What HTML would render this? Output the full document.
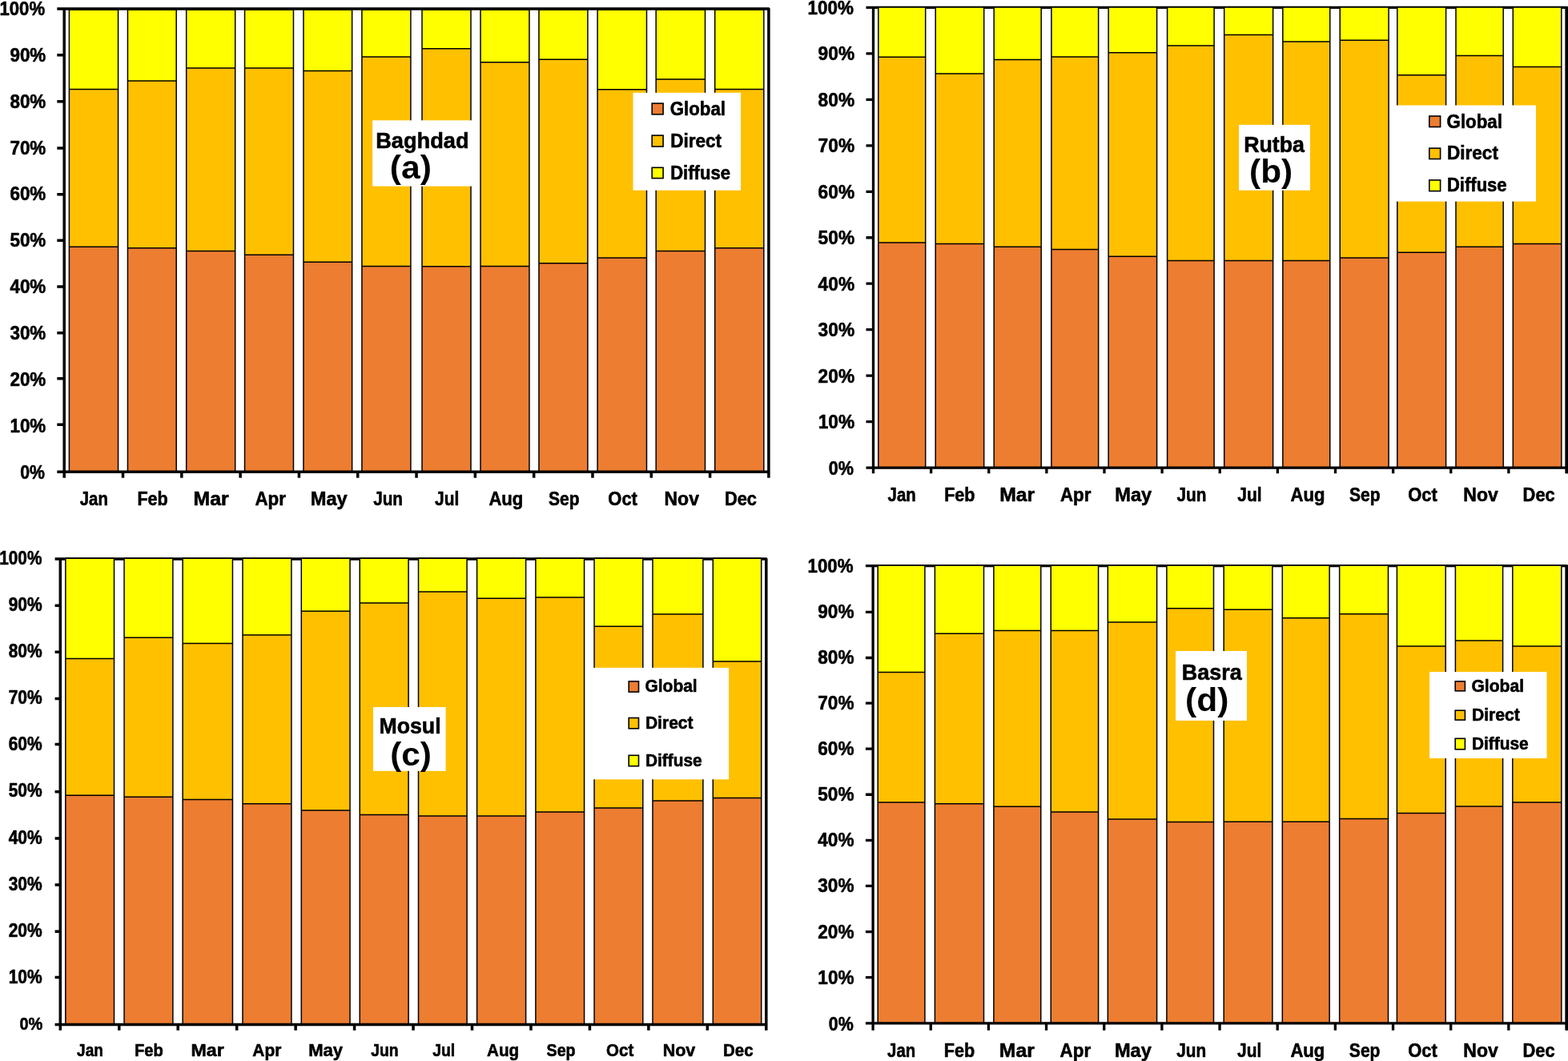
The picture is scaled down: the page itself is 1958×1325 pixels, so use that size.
<!DOCTYPE html>
<html lang="en">
<head>
<meta charset="utf-8">
<title>Monthly global, direct and diffuse solar radiation shares</title>
<style>
html,body{margin:0;padding:0;background:#fff;}
body{width:1958px;height:1325px;overflow:hidden;}
svg{display:block;}
.t{font-family:"Liberation Sans",sans-serif;font-weight:bold;fill:#000;stroke:#000;stroke-width:0.6px;stroke-linejoin:round;}
.n{stroke:none;}
.o{fill:none;stroke:#000;stroke-width:1.5;}
.s{stroke:#000;stroke-width:1.6;}
</style>
</head>
<body>
<svg width="1958" height="1325" viewBox="0 0 1958 1325">
<rect width="1958" height="1325" fill="#fff"/>
<g>
<path d="M71.30 11.00H959.90V596.80" fill="none" stroke="#000" stroke-width="3.5" stroke-linejoin="round"/>
<rect x="86.40" y="12.30" width="61.15" height="99.10" fill="#FFFF00"/><rect x="86.40" y="111.40" width="61.15" height="196.80" fill="#FFC000"/><rect x="86.40" y="308.20" width="61.15" height="281.10" fill="#ED7D31"/><path class="o" d="M86.40 12.30H147.55V589.30H86.40ZM86.40 111.40H147.55M86.40 308.20H147.55"/>
<rect x="159.45" y="12.30" width="60.75" height="88.70" fill="#FFFF00"/><rect x="159.45" y="101.00" width="60.75" height="208.80" fill="#FFC000"/><rect x="159.45" y="309.80" width="60.75" height="279.50" fill="#ED7D31"/><path class="o" d="M159.45 12.30H220.20V589.30H159.45ZM159.45 101.00H220.20M159.45 309.80H220.20"/>
<rect x="232.70" y="12.30" width="61.00" height="72.70" fill="#FFFF00"/><rect x="232.70" y="85.00" width="61.00" height="228.40" fill="#FFC000"/><rect x="232.70" y="313.40" width="61.00" height="275.90" fill="#ED7D31"/><path class="o" d="M232.70 12.30H293.70V589.30H232.70ZM232.70 85.00H293.70M232.70 313.40H293.70"/>
<rect x="305.55" y="12.30" width="60.91" height="72.77" fill="#FFFF00"/><rect x="305.55" y="85.07" width="60.91" height="233.23" fill="#FFC000"/><rect x="305.55" y="318.30" width="60.91" height="271.00" fill="#ED7D31"/><path class="o" d="M305.55 12.30H366.46V589.30H305.55ZM305.55 85.07H366.46M305.55 318.30H366.46"/>
<rect x="378.96" y="12.30" width="60.68" height="76.14" fill="#FFFF00"/><rect x="378.96" y="88.44" width="60.68" height="238.86" fill="#FFC000"/><rect x="378.96" y="327.30" width="60.68" height="262.00" fill="#ED7D31"/><path class="o" d="M378.96 12.30H439.64V589.30H378.96ZM378.96 88.44H439.64M378.96 327.30H439.64"/>
<rect x="451.90" y="12.30" width="61.00" height="58.67" fill="#FFFF00"/><rect x="451.90" y="70.97" width="61.00" height="261.53" fill="#FFC000"/><rect x="451.90" y="332.50" width="61.00" height="256.80" fill="#ED7D31"/><path class="o" d="M451.90 12.30H512.90V589.30H451.90ZM451.90 70.97H512.90M451.90 332.50H512.90"/>
<rect x="527.00" y="12.30" width="61.00" height="48.56" fill="#FFFF00"/><rect x="527.00" y="60.86" width="61.00" height="271.84" fill="#FFC000"/><rect x="527.00" y="332.70" width="61.00" height="256.60" fill="#ED7D31"/><path class="o" d="M527.00 12.30H588.00V589.30H527.00ZM527.00 60.86H588.00M527.00 332.70H588.00"/>
<rect x="600.00" y="12.30" width="60.95" height="65.54" fill="#FFFF00"/><rect x="600.00" y="77.84" width="60.95" height="254.66" fill="#FFC000"/><rect x="600.00" y="332.50" width="60.95" height="256.80" fill="#ED7D31"/><path class="o" d="M600.00 12.30H660.95V589.30H600.00ZM600.00 77.84H660.95M600.00 332.50H660.95"/>
<rect x="672.95" y="12.30" width="60.95" height="62.04" fill="#FFFF00"/><rect x="672.95" y="74.34" width="60.95" height="254.36" fill="#FFC000"/><rect x="672.95" y="328.70" width="60.95" height="260.60" fill="#ED7D31"/><path class="o" d="M672.95 12.30H733.90V589.30H672.95ZM672.95 74.34H733.90M672.95 328.70H733.90"/>
<rect x="746.10" y="12.30" width="61.40" height="99.37" fill="#FFFF00"/><rect x="746.10" y="111.67" width="61.40" height="210.23" fill="#FFC000"/><rect x="746.10" y="321.90" width="61.40" height="267.40" fill="#ED7D31"/><path class="o" d="M746.10 12.30H807.50V589.30H746.10ZM746.10 111.67H807.50M746.10 321.90H807.50"/>
<rect x="819.20" y="12.30" width="61.30" height="86.70" fill="#FFFF00"/><rect x="819.20" y="99.00" width="61.30" height="214.40" fill="#FFC000"/><rect x="819.20" y="313.40" width="61.30" height="275.90" fill="#ED7D31"/><path class="o" d="M819.20 12.30H880.50V589.30H819.20ZM819.20 99.00H880.50M819.20 313.40H880.50"/>
<rect x="892.70" y="12.30" width="61.10" height="99.20" fill="#FFFF00"/><rect x="892.70" y="111.50" width="61.10" height="198.30" fill="#FFC000"/><rect x="892.70" y="309.80" width="61.10" height="279.50" fill="#ED7D31"/><path class="o" d="M892.70 12.30H953.80V589.30H892.70ZM892.70 111.50H953.80M892.70 309.80H953.80"/>
<path d="M80.20 11.00V596.80M71.30 589.30H959.90M71.30 68.83H80.20M71.30 126.66H80.20M71.30 185.09H80.20M71.30 242.82H80.20M71.30 300.15H80.20M71.30 357.98H80.20M71.30 415.81H80.20M71.30 472.64H80.20M71.30 530.27H80.20M153.51 589.30V596.80M226.82 589.30V596.80M300.12 589.30V596.80M373.43 589.30V596.80M446.74 589.30V596.80M520.05 589.30V596.80M593.36 589.30V596.80M666.67 589.30V596.80M739.97 589.30V596.80M813.28 589.30V596.80M886.59 589.30V596.80" fill="none" stroke="#000" stroke-width="3.5"/>
<text class="t" font-size="24.50" transform="translate(-0.54 19.10) scale(0.9041 1)">100%</text>
<text class="t" font-size="24.50" transform="translate(12.42 76.93) scale(0.9152 1)">90%</text>
<text class="t" font-size="24.50" transform="translate(12.42 134.76) scale(0.9152 1)">80%</text>
<text class="t" font-size="24.50" transform="translate(12.42 192.59) scale(0.9152 1)">70%</text>
<text class="t" font-size="24.50" transform="translate(12.42 250.42) scale(0.9152 1)">60%</text>
<text class="t" font-size="24.50" transform="translate(12.42 308.25) scale(0.9152 1)">50%</text>
<text class="t" font-size="24.50" transform="translate(12.42 366.08) scale(0.9152 1)">40%</text>
<text class="t" font-size="24.50" transform="translate(12.42 423.91) scale(0.9152 1)">30%</text>
<text class="t" font-size="24.50" transform="translate(12.42 481.74) scale(0.9152 1)">20%</text>
<text class="t" font-size="24.50" transform="translate(12.44 539.57) scale(0.9146 1)">10%</text>
<text class="t" font-size="24.50" transform="translate(25.25 598.10) scale(0.8696 1)">0%</text>
<text class="t" font-size="23.60" transform="translate(99.80 631.20) scale(0.8629 1)">Jan</text>
<text class="t" font-size="23.60" transform="translate(171.46 631.20) scale(0.9134 1)">Feb</text>
<text class="t" font-size="23.60" transform="translate(241.61 631.20) scale(1.0494 1)">Mar</text>
<text class="t" font-size="23.60" transform="translate(318.42 631.20) scale(0.9483 1)">Apr</text>
<text class="t" font-size="23.60" transform="translate(387.80 631.20) scale(1.0011 1)">May</text>
<text class="t" font-size="23.60" transform="translate(466.13 631.20) scale(0.8799 1)">Jun</text>
<text class="t" font-size="23.60" transform="translate(543.09 631.20) scale(0.8848 1)">Jul</text>
<text class="t" font-size="23.60" transform="translate(610.41 631.20) scale(0.9368 1)">Aug</text>
<text class="t" font-size="23.60" transform="translate(684.94 631.20) scale(0.8907 1)">Sep</text>
<text class="t" font-size="23.60" transform="translate(759.35 631.20) scale(0.9288 1)">Oct</text>
<text class="t" font-size="23.60" transform="translate(829.49 631.20) scale(0.9755 1)">Nov</text>
<text class="t" font-size="23.60" transform="translate(904.93 631.20) scale(0.9254 1)">Dec</text>
<rect x="465.1" y="150.3" width="124.20" height="82.30" fill="#fff"/>
<text class="t" font-size="28.50" transform="translate(469.13 184.60) scale(0.9549 1)">Baghdad</text>
<text class="t n" font-size="40.50" transform="translate(486.87 222.60) scale(1.0538 1)">(a)</text>
<rect x="790.5" y="115.8" width="134.60" height="121.90" fill="#fff"/>
<rect class="s" x="814.20" y="129.10" width="13.90" height="13.70" fill="#ED7D31"/>
<text class="t" font-size="23.50" transform="translate(836.81 143.60) scale(0.9461 1)">Global</text>
<rect class="s" x="814.20" y="169.10" width="13.90" height="13.90" fill="#FFC000"/>
<text class="t" font-size="23.50" transform="translate(837.13 183.60) scale(0.9592 1)">Direct</text>
<rect class="s" x="814.20" y="209.30" width="13.90" height="13.30" fill="#FFFF00"/>
<text class="t" font-size="23.50" transform="translate(837.17 223.50) scale(0.9390 1)">Diffuse</text>
</g>
<g>
<path d="M1081.50 9.40H1956.00V591.30" fill="none" stroke="#000" stroke-width="3.3" stroke-linejoin="round"/>
<rect x="1956.00" y="8.15" width="2.00" height="583.15" fill="#000"/>
<rect x="1096.80" y="9.00" width="58.90" height="62.20" fill="#FFFF00"/><rect x="1096.80" y="71.20" width="58.90" height="231.80" fill="#FFC000"/><rect x="1096.80" y="303.00" width="58.90" height="281.10" fill="#ED7D31"/><path class="o" d="M1096.80 9.00H1155.70V584.10H1096.80ZM1096.80 71.20H1155.70M1096.80 303.00H1155.70"/>
<rect x="1168.20" y="9.00" width="60.50" height="82.90" fill="#FFFF00"/><rect x="1168.20" y="91.90" width="60.50" height="212.70" fill="#FFC000"/><rect x="1168.20" y="304.60" width="60.50" height="279.50" fill="#ED7D31"/><path class="o" d="M1168.20 9.00H1228.70V584.10H1168.20ZM1168.20 91.90H1228.70M1168.20 304.60H1228.70"/>
<rect x="1241.20" y="9.00" width="59.00" height="65.40" fill="#FFFF00"/><rect x="1241.20" y="74.40" width="59.00" height="233.80" fill="#FFC000"/><rect x="1241.20" y="308.20" width="59.00" height="275.90" fill="#ED7D31"/><path class="o" d="M1241.20 9.00H1300.20V584.10H1241.20ZM1241.20 74.40H1300.20M1241.20 308.20H1300.20"/>
<rect x="1312.90" y="9.00" width="58.75" height="61.90" fill="#FFFF00"/><rect x="1312.90" y="70.90" width="58.75" height="240.70" fill="#FFC000"/><rect x="1312.90" y="311.60" width="58.75" height="272.50" fill="#ED7D31"/><path class="o" d="M1312.90 9.00H1371.65V584.10H1312.90ZM1312.90 70.90H1371.65M1312.90 311.60H1371.65"/>
<rect x="1384.15" y="9.00" width="60.45" height="56.80" fill="#FFFF00"/><rect x="1384.15" y="65.80" width="60.45" height="254.50" fill="#FFC000"/><rect x="1384.15" y="320.30" width="60.45" height="263.80" fill="#ED7D31"/><path class="o" d="M1384.15 9.00H1444.60V584.10H1384.15ZM1384.15 65.80H1444.60M1384.15 320.30H1444.60"/>
<rect x="1457.60" y="9.00" width="58.50" height="48.10" fill="#FFFF00"/><rect x="1457.60" y="57.10" width="58.50" height="268.40" fill="#FFC000"/><rect x="1457.60" y="325.50" width="58.50" height="258.60" fill="#ED7D31"/><path class="o" d="M1457.60 9.00H1516.10V584.10H1457.60ZM1457.60 57.10H1516.10M1457.60 325.50H1516.10"/>
<rect x="1528.70" y="9.00" width="60.95" height="34.50" fill="#FFFF00"/><rect x="1528.70" y="43.50" width="60.95" height="282.00" fill="#FFC000"/><rect x="1528.70" y="325.50" width="60.95" height="258.60" fill="#ED7D31"/><path class="o" d="M1528.70 9.00H1589.65V584.10H1528.70ZM1528.70 43.50H1589.65M1528.70 325.50H1589.65"/>
<rect x="1601.85" y="9.00" width="58.90" height="43.10" fill="#FFFF00"/><rect x="1601.85" y="52.10" width="58.90" height="273.40" fill="#FFC000"/><rect x="1601.85" y="325.50" width="58.90" height="258.60" fill="#ED7D31"/><path class="o" d="M1601.85 9.00H1660.75V584.10H1601.85ZM1601.85 52.10H1660.75M1601.85 325.50H1660.75"/>
<rect x="1673.25" y="9.00" width="60.85" height="41.25" fill="#FFFF00"/><rect x="1673.25" y="50.25" width="60.85" height="271.65" fill="#FFC000"/><rect x="1673.25" y="321.90" width="60.85" height="262.20" fill="#ED7D31"/><path class="o" d="M1673.25 9.00H1734.10V584.10H1673.25ZM1673.25 50.25H1734.10M1673.25 321.90H1734.10"/>
<rect x="1744.80" y="9.00" width="60.80" height="84.80" fill="#FFFF00"/><rect x="1744.80" y="93.80" width="60.80" height="221.40" fill="#FFC000"/><rect x="1744.80" y="315.20" width="60.80" height="268.90" fill="#ED7D31"/><path class="o" d="M1744.80 9.00H1805.60V584.10H1744.80ZM1744.80 93.80H1805.60M1744.80 315.20H1805.60"/>
<rect x="1818.00" y="9.00" width="59.20" height="60.60" fill="#FFFF00"/><rect x="1818.00" y="69.60" width="59.20" height="238.60" fill="#FFC000"/><rect x="1818.00" y="308.20" width="59.20" height="275.90" fill="#ED7D31"/><path class="o" d="M1818.00 9.00H1877.20V584.10H1818.00ZM1818.00 69.60H1877.20M1818.00 308.20H1877.20"/>
<rect x="1889.30" y="9.00" width="60.50" height="74.40" fill="#FFFF00"/><rect x="1889.30" y="83.40" width="60.50" height="221.20" fill="#FFC000"/><rect x="1889.30" y="304.60" width="60.50" height="279.50" fill="#ED7D31"/><path class="o" d="M1889.30 9.00H1949.80V584.10H1889.30ZM1889.30 83.40H1949.80M1889.30 304.60H1949.80"/>
<path d="M1090.50 9.40V591.30M1081.50 584.10H1956.00M1081.50 66.87H1090.50M1081.50 124.34H1090.50M1081.50 181.81H1090.50M1081.50 239.28H1090.50M1081.50 296.75H1090.50M1081.50 354.22H1090.50M1081.50 411.69H1090.50M1081.50 469.16H1090.50M1081.50 526.63H1090.50M1162.62 584.10V591.30M1234.75 584.10V591.30M1306.88 584.10V591.30M1379.00 584.10V591.30M1451.12 584.10V591.30M1523.25 584.10V591.30M1595.38 584.10V591.30M1667.50 584.10V591.30M1739.62 584.10V591.30M1811.75 584.10V591.30M1883.88 584.10V591.30" fill="none" stroke="#000" stroke-width="3.3"/>
<text class="t" font-size="24.50" transform="translate(1008.49 17.50) scale(0.9165 1)">100%</text>
<text class="t" font-size="24.50" transform="translate(1021.60 75.03) scale(0.9278 1)">90%</text>
<text class="t" font-size="24.50" transform="translate(1021.60 132.56) scale(0.9278 1)">80%</text>
<text class="t" font-size="24.50" transform="translate(1021.60 190.09) scale(0.9278 1)">70%</text>
<text class="t" font-size="24.50" transform="translate(1021.60 247.62) scale(0.9278 1)">60%</text>
<text class="t" font-size="24.50" transform="translate(1021.60 305.15) scale(0.9278 1)">50%</text>
<text class="t" font-size="24.50" transform="translate(1021.60 362.68) scale(0.9278 1)">40%</text>
<text class="t" font-size="24.50" transform="translate(1021.60 420.21) scale(0.9278 1)">30%</text>
<text class="t" font-size="24.50" transform="translate(1021.60 477.74) scale(0.9278 1)">20%</text>
<text class="t" font-size="24.50" transform="translate(1021.63 535.27) scale(0.9272 1)">10%</text>
<text class="t" font-size="24.50" transform="translate(1034.63 593.40) scale(0.8816 1)">0%</text>
<text class="t" font-size="23.60" transform="translate(1108.61 626.30) scale(0.8629 1)">Jan</text>
<text class="t" font-size="23.60" transform="translate(1179.18 626.30) scale(0.9134 1)">Feb</text>
<text class="t" font-size="23.60" transform="translate(1248.23 626.30) scale(1.0494 1)">Mar</text>
<text class="t" font-size="23.60" transform="translate(1323.95 626.30) scale(0.9483 1)">Apr</text>
<text class="t" font-size="23.60" transform="translate(1392.24 626.30) scale(1.0011 1)">May</text>
<text class="t" font-size="23.60" transform="translate(1469.48 626.30) scale(0.8799 1)">Jun</text>
<text class="t" font-size="23.60" transform="translate(1545.34 626.30) scale(0.8848 1)">Jul</text>
<text class="t" font-size="23.60" transform="translate(1611.56 626.30) scale(0.9368 1)">Aug</text>
<text class="t" font-size="23.60" transform="translate(1685.00 626.30) scale(0.8907 1)">Sep</text>
<text class="t" font-size="23.60" transform="translate(1758.32 626.30) scale(0.9288 1)">Oct</text>
<text class="t" font-size="23.60" transform="translate(1827.37 626.30) scale(0.9755 1)">Nov</text>
<text class="t" font-size="23.60" transform="translate(1901.62 626.30) scale(0.9254 1)">Dec</text>
<rect x="1547.0" y="155.9" width="89.00" height="81.80" fill="#fff"/>
<text class="t" font-size="28.50" transform="translate(1553.16 189.70) scale(0.9395 1)">Rutba</text>
<text class="t n" font-size="40.50" transform="translate(1560.08 228.30) scale(1.0465 1)">(b)</text>
<rect x="1743.6" y="131.5" width="174.40" height="120.10" fill="#fff"/>
<rect class="s" x="1784.80" y="145.00" width="13.80" height="13.50" fill="#ED7D31"/>
<text class="t" font-size="23.50" transform="translate(1806.61 159.50) scale(0.9475 1)">Global</text>
<rect class="s" x="1784.80" y="185.10" width="13.80" height="13.40" fill="#FFC000"/>
<text class="t" font-size="23.50" transform="translate(1806.93 199.30) scale(0.9607 1)">Direct</text>
<rect class="s" x="1784.80" y="224.90" width="13.80" height="13.70" fill="#FFFF00"/>
<text class="t" font-size="23.50" transform="translate(1806.97 239.40) scale(0.9377 1)">Diffuse</text>
</g>
<g>
<path d="M68.60 698.00H956.80V1286.70" fill="none" stroke="#000" stroke-width="3.5" stroke-linejoin="round"/>
<rect x="81.83" y="697.20" width="60.67" height="125.20" fill="#FFFF00"/><rect x="81.83" y="822.40" width="60.67" height="170.90" fill="#FFC000"/><rect x="81.83" y="993.30" width="60.67" height="286.20" fill="#ED7D31"/><path class="o" d="M81.83 697.20H142.50V1279.50H81.83ZM81.83 822.40H142.50M81.83 993.30H142.50"/>
<rect x="155.07" y="697.20" width="60.80" height="98.95" fill="#FFFF00"/><rect x="155.07" y="796.15" width="60.80" height="199.05" fill="#FFC000"/><rect x="155.07" y="995.20" width="60.80" height="284.30" fill="#ED7D31"/><path class="o" d="M155.07 697.20H215.87V1279.50H155.07ZM155.07 796.15H215.87M155.07 995.20H215.87"/>
<rect x="228.13" y="697.20" width="62.33" height="106.20" fill="#FFFF00"/><rect x="228.13" y="803.40" width="62.33" height="195.20" fill="#FFC000"/><rect x="228.13" y="998.60" width="62.33" height="280.90" fill="#ED7D31"/><path class="o" d="M228.13 697.20H290.46V1279.50H228.13ZM228.13 803.40H290.46M228.13 998.60H290.46"/>
<rect x="303.00" y="697.20" width="60.90" height="95.70" fill="#FFFF00"/><rect x="303.00" y="792.90" width="60.90" height="210.80" fill="#FFC000"/><rect x="303.00" y="1003.70" width="60.90" height="275.80" fill="#ED7D31"/><path class="o" d="M303.00 697.20H363.90V1279.50H303.00ZM303.00 792.90H363.90M303.00 1003.70H363.90"/>
<rect x="376.30" y="697.20" width="60.75" height="66.00" fill="#FFFF00"/><rect x="376.30" y="763.20" width="60.75" height="248.90" fill="#FFC000"/><rect x="376.30" y="1012.10" width="60.75" height="267.40" fill="#ED7D31"/><path class="o" d="M376.30 697.20H437.05V1279.50H376.30ZM376.30 763.20H437.05M376.30 1012.10H437.05"/>
<rect x="449.25" y="697.20" width="60.85" height="55.70" fill="#FFFF00"/><rect x="449.25" y="752.90" width="60.85" height="264.60" fill="#FFC000"/><rect x="449.25" y="1017.50" width="60.85" height="262.00" fill="#ED7D31"/><path class="o" d="M449.25 697.20H510.10V1279.50H449.25ZM449.25 752.90H510.10M449.25 1017.50H510.10"/>
<rect x="522.50" y="697.20" width="60.59" height="41.83" fill="#FFFF00"/><rect x="522.50" y="739.03" width="60.59" height="280.07" fill="#FFC000"/><rect x="522.50" y="1019.10" width="60.59" height="260.40" fill="#ED7D31"/><path class="o" d="M522.50 697.20H583.09V1279.50H522.50ZM522.50 739.03H583.09M522.50 1019.10H583.09"/>
<rect x="595.59" y="697.20" width="61.04" height="50.04" fill="#FFFF00"/><rect x="595.59" y="747.24" width="61.04" height="271.86" fill="#FFC000"/><rect x="595.59" y="1019.10" width="61.04" height="260.40" fill="#ED7D31"/><path class="o" d="M595.59 697.20H656.63V1279.50H595.59ZM595.59 747.24H656.63M595.59 1019.10H656.63"/>
<rect x="668.89" y="697.20" width="60.68" height="48.82" fill="#FFFF00"/><rect x="668.89" y="746.02" width="60.68" height="267.88" fill="#FFC000"/><rect x="668.89" y="1013.90" width="60.68" height="265.60" fill="#ED7D31"/><path class="o" d="M668.89 697.20H729.57V1279.50H668.89ZM668.89 746.02H729.57M668.89 1013.90H729.57"/>
<rect x="742.07" y="697.20" width="60.73" height="84.98" fill="#FFFF00"/><rect x="742.07" y="782.18" width="60.73" height="226.82" fill="#FFC000"/><rect x="742.07" y="1009.00" width="60.73" height="270.50" fill="#ED7D31"/><path class="o" d="M742.07 697.20H802.80V1279.50H742.07ZM742.07 782.18H802.80M742.07 1009.00H802.80"/>
<rect x="815.00" y="697.20" width="62.90" height="69.70" fill="#FFFF00"/><rect x="815.00" y="766.90" width="62.90" height="233.10" fill="#FFC000"/><rect x="815.00" y="1000.00" width="62.90" height="279.50" fill="#ED7D31"/><path class="o" d="M815.00 697.20H877.90V1279.50H815.00ZM815.00 766.90H877.90M815.00 1000.00H877.90"/>
<rect x="890.30" y="697.20" width="60.40" height="128.80" fill="#FFFF00"/><rect x="890.30" y="826.00" width="60.40" height="170.60" fill="#FFC000"/><rect x="890.30" y="996.60" width="60.40" height="282.90" fill="#ED7D31"/><path class="o" d="M890.30 697.20H950.70V1279.50H890.30ZM890.30 826.00H950.70M890.30 996.60H950.70"/>
<path d="M75.30 698.00V1286.70M68.60 1279.50H956.80M68.60 756.15H75.30M68.60 814.30H75.30M68.60 872.45H75.30M68.60 929.40H75.30M68.60 988.75H75.30M68.60 1046.90H75.30M68.60 1105.05H75.30M68.60 1163.20H75.30M68.60 1220.45H75.30M148.76 1279.50V1286.70M222.22 1279.50V1286.70M295.68 1279.50V1286.70M369.13 1279.50V1286.70M442.59 1279.50V1286.70M516.05 1279.50V1286.70M589.51 1279.50V1286.70M662.97 1279.50V1286.70M736.42 1279.50V1286.70M809.88 1279.50V1286.70M883.34 1279.50V1286.70" fill="none" stroke="#000" stroke-width="3.5"/>
<text class="t" font-size="23.00" transform="translate(-0.77 704.60) scale(0.9034 1)">100%</text>
<text class="t" font-size="23.00" transform="translate(10.66 762.75) scale(0.9144 1)">90%</text>
<text class="t" font-size="23.00" transform="translate(10.66 820.90) scale(0.9144 1)">80%</text>
<text class="t" font-size="23.00" transform="translate(10.66 879.05) scale(0.9144 1)">70%</text>
<text class="t" font-size="23.00" transform="translate(10.66 937.20) scale(0.9144 1)">60%</text>
<text class="t" font-size="23.00" transform="translate(10.66 995.35) scale(0.9144 1)">50%</text>
<text class="t" font-size="23.00" transform="translate(10.66 1053.50) scale(0.9144 1)">40%</text>
<text class="t" font-size="23.00" transform="translate(10.66 1111.65) scale(0.9144 1)">30%</text>
<text class="t" font-size="23.00" transform="translate(10.66 1169.80) scale(0.9144 1)">20%</text>
<text class="t" font-size="23.00" transform="translate(10.69 1227.95) scale(0.9138 1)">10%</text>
<text class="t" font-size="23.00" transform="translate(24.44 1286.10) scale(0.8684 1)">0%</text>
<text class="t" font-size="22.20" transform="translate(96.10 1318.80) scale(0.8566 1)">Jan</text>
<text class="t" font-size="22.20" transform="translate(168.07 1318.80) scale(0.9069 1)">Feb</text>
<text class="t" font-size="22.20" transform="translate(238.58 1318.80) scale(1.0420 1)">Mar</text>
<text class="t" font-size="22.20" transform="translate(315.32 1318.80) scale(0.9416 1)">Apr</text>
<text class="t" font-size="22.20" transform="translate(385.14 1318.80) scale(0.9942 1)">May</text>
<text class="t" font-size="22.20" transform="translate(463.25 1318.80) scale(0.8735 1)">Jun</text>
<text class="t" font-size="22.20" transform="translate(540.13 1318.80) scale(0.8782 1)">Jul</text>
<text class="t" font-size="22.20" transform="translate(608.02 1318.80) scale(0.9302 1)">Aug</text>
<text class="t" font-size="22.20" transform="translate(682.58 1318.80) scale(0.8843 1)">Sep</text>
<text class="t" font-size="22.20" transform="translate(757.11 1318.80) scale(0.9221 1)">Oct</text>
<text class="t" font-size="22.20" transform="translate(827.65 1318.80) scale(0.9687 1)">Nov</text>
<text class="t" font-size="22.20" transform="translate(903.10 1318.80) scale(0.9188 1)">Dec</text>
<rect x="466.0" y="883.0" width="90.60" height="79.80" fill="#fff"/>
<text class="t" font-size="28.50" transform="translate(473.46 915.60) scale(0.9374 1)">Mosul</text>
<text class="t n" font-size="40.50" transform="translate(487.18 956.10) scale(1.0450 1)">(c)</text>
<rect x="741.0" y="833.9" width="169.10" height="139.40" fill="#fff"/>
<rect class="s" x="785.20" y="850.90" width="12.30" height="13.20" fill="#ED7D31"/>
<text class="t" font-size="22.40" transform="translate(805.46 864.30) scale(0.9360 1)">Global</text>
<rect class="s" x="785.20" y="896.50" width="12.30" height="13.30" fill="#FFC000"/>
<text class="t" font-size="22.40" transform="translate(805.93 910.20) scale(0.9398 1)">Direct</text>
<rect class="s" x="785.20" y="943.30" width="12.30" height="13.40" fill="#FFFF00"/>
<text class="t" font-size="22.40" transform="translate(805.94 956.60) scale(0.9322 1)">Diffuse</text>
</g>
<g>
<path d="M1080.90 706.70H1956.00V1286.70" fill="none" stroke="#000" stroke-width="3.3" stroke-linejoin="round"/>
<rect x="1956.00" y="705.45" width="2.00" height="581.25" fill="#000"/>
<rect x="1096.20" y="706.10" width="58.70" height="133.40" fill="#FFFF00"/><rect x="1096.20" y="839.50" width="58.70" height="162.60" fill="#FFC000"/><rect x="1096.20" y="1002.10" width="58.70" height="275.70" fill="#ED7D31"/><path class="o" d="M1096.20 706.10H1154.90V1277.80H1096.20ZM1096.20 839.50H1154.90M1096.20 1002.10H1154.90"/>
<rect x="1167.40" y="706.10" width="61.10" height="85.10" fill="#FFFF00"/><rect x="1167.40" y="791.20" width="61.10" height="212.50" fill="#FFC000"/><rect x="1167.40" y="1003.70" width="61.10" height="274.10" fill="#ED7D31"/><path class="o" d="M1167.40 706.10H1228.50V1277.80H1167.40ZM1167.40 791.20H1228.50M1167.40 1003.70H1228.50"/>
<rect x="1240.90" y="706.10" width="58.85" height="81.50" fill="#FFFF00"/><rect x="1240.90" y="787.60" width="58.85" height="219.60" fill="#FFC000"/><rect x="1240.90" y="1007.20" width="58.85" height="270.60" fill="#ED7D31"/><path class="o" d="M1240.90 706.10H1299.75V1277.80H1240.90ZM1240.90 787.60H1299.75M1240.90 1007.20H1299.75"/>
<rect x="1312.25" y="706.10" width="59.35" height="81.50" fill="#FFFF00"/><rect x="1312.25" y="787.60" width="59.35" height="226.30" fill="#FFC000"/><rect x="1312.25" y="1013.90" width="59.35" height="263.90" fill="#ED7D31"/><path class="o" d="M1312.25 706.10H1371.60V1277.80H1312.25ZM1312.25 787.60H1371.60M1312.25 1013.90H1371.60"/>
<rect x="1383.35" y="706.10" width="61.25" height="71.00" fill="#FFFF00"/><rect x="1383.35" y="777.10" width="61.25" height="246.00" fill="#FFC000"/><rect x="1383.35" y="1023.10" width="61.25" height="254.70" fill="#ED7D31"/><path class="o" d="M1383.35 706.10H1444.60V1277.80H1383.35ZM1383.35 777.10H1444.60M1383.35 1023.10H1444.60"/>
<rect x="1456.90" y="706.10" width="58.60" height="53.60" fill="#FFFF00"/><rect x="1456.90" y="759.70" width="58.60" height="266.70" fill="#FFC000"/><rect x="1456.90" y="1026.40" width="58.60" height="251.40" fill="#ED7D31"/><path class="o" d="M1456.90 706.10H1515.50V1277.80H1456.90ZM1456.90 759.70H1515.50M1456.90 1026.40H1515.50"/>
<rect x="1528.20" y="706.10" width="60.67" height="55.20" fill="#FFFF00"/><rect x="1528.20" y="761.30" width="60.67" height="264.90" fill="#FFC000"/><rect x="1528.20" y="1026.20" width="60.67" height="251.60" fill="#ED7D31"/><path class="o" d="M1528.20 706.10H1588.87V1277.80H1528.20ZM1528.20 761.30H1588.87M1528.20 1026.20H1588.87"/>
<rect x="1601.31" y="706.10" width="58.84" height="65.60" fill="#FFFF00"/><rect x="1601.31" y="771.70" width="58.84" height="254.50" fill="#FFC000"/><rect x="1601.31" y="1026.20" width="58.84" height="251.60" fill="#ED7D31"/><path class="o" d="M1601.31 706.10H1660.15V1277.80H1601.31ZM1601.31 771.70H1660.15M1601.31 1026.20H1660.15"/>
<rect x="1672.65" y="706.10" width="60.85" height="60.70" fill="#FFFF00"/><rect x="1672.65" y="766.80" width="60.85" height="255.60" fill="#FFC000"/><rect x="1672.65" y="1022.40" width="60.85" height="255.40" fill="#ED7D31"/><path class="o" d="M1672.65 706.10H1733.50V1277.80H1672.65ZM1672.65 766.80H1733.50M1672.65 1022.40H1733.50"/>
<rect x="1744.40" y="706.10" width="60.80" height="100.90" fill="#FFFF00"/><rect x="1744.40" y="807.00" width="60.80" height="208.60" fill="#FFC000"/><rect x="1744.40" y="1015.60" width="60.80" height="262.20" fill="#ED7D31"/><path class="o" d="M1744.40 706.10H1805.20V1277.80H1744.40ZM1744.40 807.00H1805.20M1744.40 1015.60H1805.20"/>
<rect x="1817.40" y="706.10" width="59.20" height="93.90" fill="#FFFF00"/><rect x="1817.40" y="800.00" width="59.20" height="207.10" fill="#FFC000"/><rect x="1817.40" y="1007.10" width="59.20" height="270.70" fill="#ED7D31"/><path class="o" d="M1817.40 706.10H1876.60V1277.80H1817.40ZM1817.40 800.00H1876.60M1817.40 1007.10H1876.60"/>
<rect x="1888.80" y="706.10" width="61.00" height="100.90" fill="#FFFF00"/><rect x="1888.80" y="807.00" width="61.00" height="195.10" fill="#FFC000"/><rect x="1888.80" y="1002.10" width="61.00" height="275.70" fill="#ED7D31"/><path class="o" d="M1888.80 706.10H1949.80V1277.80H1888.80ZM1888.80 807.00H1949.80M1888.80 1002.10H1949.80"/>
<path d="M1090.10 706.70V1286.70M1080.90 1277.80H1956.00M1080.90 764.41H1090.10M1080.90 821.52H1090.10M1080.90 878.03H1090.10M1080.90 935.14H1090.10M1080.90 992.25H1090.10M1080.90 1049.36H1090.10M1080.90 1106.47H1090.10M1080.90 1163.58H1090.10M1080.90 1220.69H1090.10M1162.26 1277.80V1286.70M1234.42 1277.80V1286.70M1306.57 1277.80V1286.70M1378.73 1277.80V1286.70M1450.89 1277.80V1286.70M1523.05 1277.80V1286.70M1595.21 1277.80V1286.70M1667.37 1277.80V1286.70M1739.53 1277.80V1286.70M1811.68 1277.80V1286.70M1883.84 1277.80V1286.70" fill="none" stroke="#000" stroke-width="3.3"/>
<text class="t" font-size="24.80" transform="translate(1008.57 714.70) scale(0.8993 1)">100%</text>
<text class="t" font-size="24.80" transform="translate(1021.31 771.81) scale(0.9104 1)">90%</text>
<text class="t" font-size="24.80" transform="translate(1021.31 828.92) scale(0.9104 1)">80%</text>
<text class="t" font-size="24.80" transform="translate(1021.31 886.03) scale(0.9104 1)">70%</text>
<text class="t" font-size="24.80" transform="translate(1021.31 943.14) scale(0.9104 1)">60%</text>
<text class="t" font-size="24.80" transform="translate(1021.31 1000.25) scale(0.9104 1)">50%</text>
<text class="t" font-size="24.80" transform="translate(1021.31 1057.36) scale(0.9104 1)">40%</text>
<text class="t" font-size="24.80" transform="translate(1021.31 1114.47) scale(0.9104 1)">30%</text>
<text class="t" font-size="24.80" transform="translate(1021.31 1171.58) scale(0.9104 1)">20%</text>
<text class="t" font-size="24.80" transform="translate(1021.34 1228.69) scale(0.9098 1)">10%</text>
<text class="t" font-size="24.80" transform="translate(1034.84 1286.80) scale(0.8650 1)">0%</text>
<text class="t" font-size="23.60" transform="translate(1108.12 1319.70) scale(0.8629 1)">Jan</text>
<text class="t" font-size="23.60" transform="translate(1178.74 1319.70) scale(0.9134 1)">Feb</text>
<text class="t" font-size="23.60" transform="translate(1247.84 1319.70) scale(1.0494 1)">Mar</text>
<text class="t" font-size="23.60" transform="translate(1323.59 1319.70) scale(0.9483 1)">Apr</text>
<text class="t" font-size="23.60" transform="translate(1391.93 1319.70) scale(1.0011 1)">May</text>
<text class="t" font-size="23.60" transform="translate(1469.21 1319.70) scale(0.8799 1)">Jun</text>
<text class="t" font-size="23.60" transform="translate(1545.12 1319.70) scale(0.8848 1)">Jul</text>
<text class="t" font-size="23.60" transform="translate(1611.38 1319.70) scale(0.9368 1)">Aug</text>
<text class="t" font-size="23.60" transform="translate(1684.87 1319.70) scale(0.8907 1)">Sep</text>
<text class="t" font-size="23.60" transform="translate(1758.23 1319.70) scale(0.9288 1)">Oct</text>
<text class="t" font-size="23.60" transform="translate(1827.32 1319.70) scale(0.9755 1)">Nov</text>
<text class="t" font-size="23.60" transform="translate(1901.60 1319.70) scale(0.9254 1)">Dec</text>
<rect x="1468.0" y="813.0" width="89.00" height="86.90" fill="#fff"/>
<text class="t" font-size="28.50" transform="translate(1475.75 849.00) scale(0.9456 1)">Basra</text>
<text class="t n" font-size="40.50" transform="translate(1480.07 887.80) scale(1.0507 1)">(d)</text>
<rect x="1785.1" y="839.1" width="146.40" height="107.90" fill="#fff"/>
<rect class="s" x="1817.20" y="850.90" width="12.20" height="11.90" fill="#ED7D31"/>
<text class="t" font-size="22.00" transform="translate(1837.46 863.60) scale(0.9591 1)">Global</text>
<rect class="s" x="1817.20" y="887.20" width="12.20" height="11.90" fill="#FFC000"/>
<text class="t" font-size="22.00" transform="translate(1837.92 899.90) scale(0.9619 1)">Direct</text>
<rect class="s" x="1817.20" y="922.30" width="12.20" height="13.50" fill="#FFFF00"/>
<text class="t" font-size="22.00" transform="translate(1837.94 936.30) scale(0.9492 1)">Diffuse</text>
</g>
</svg>
</body>
</html>
